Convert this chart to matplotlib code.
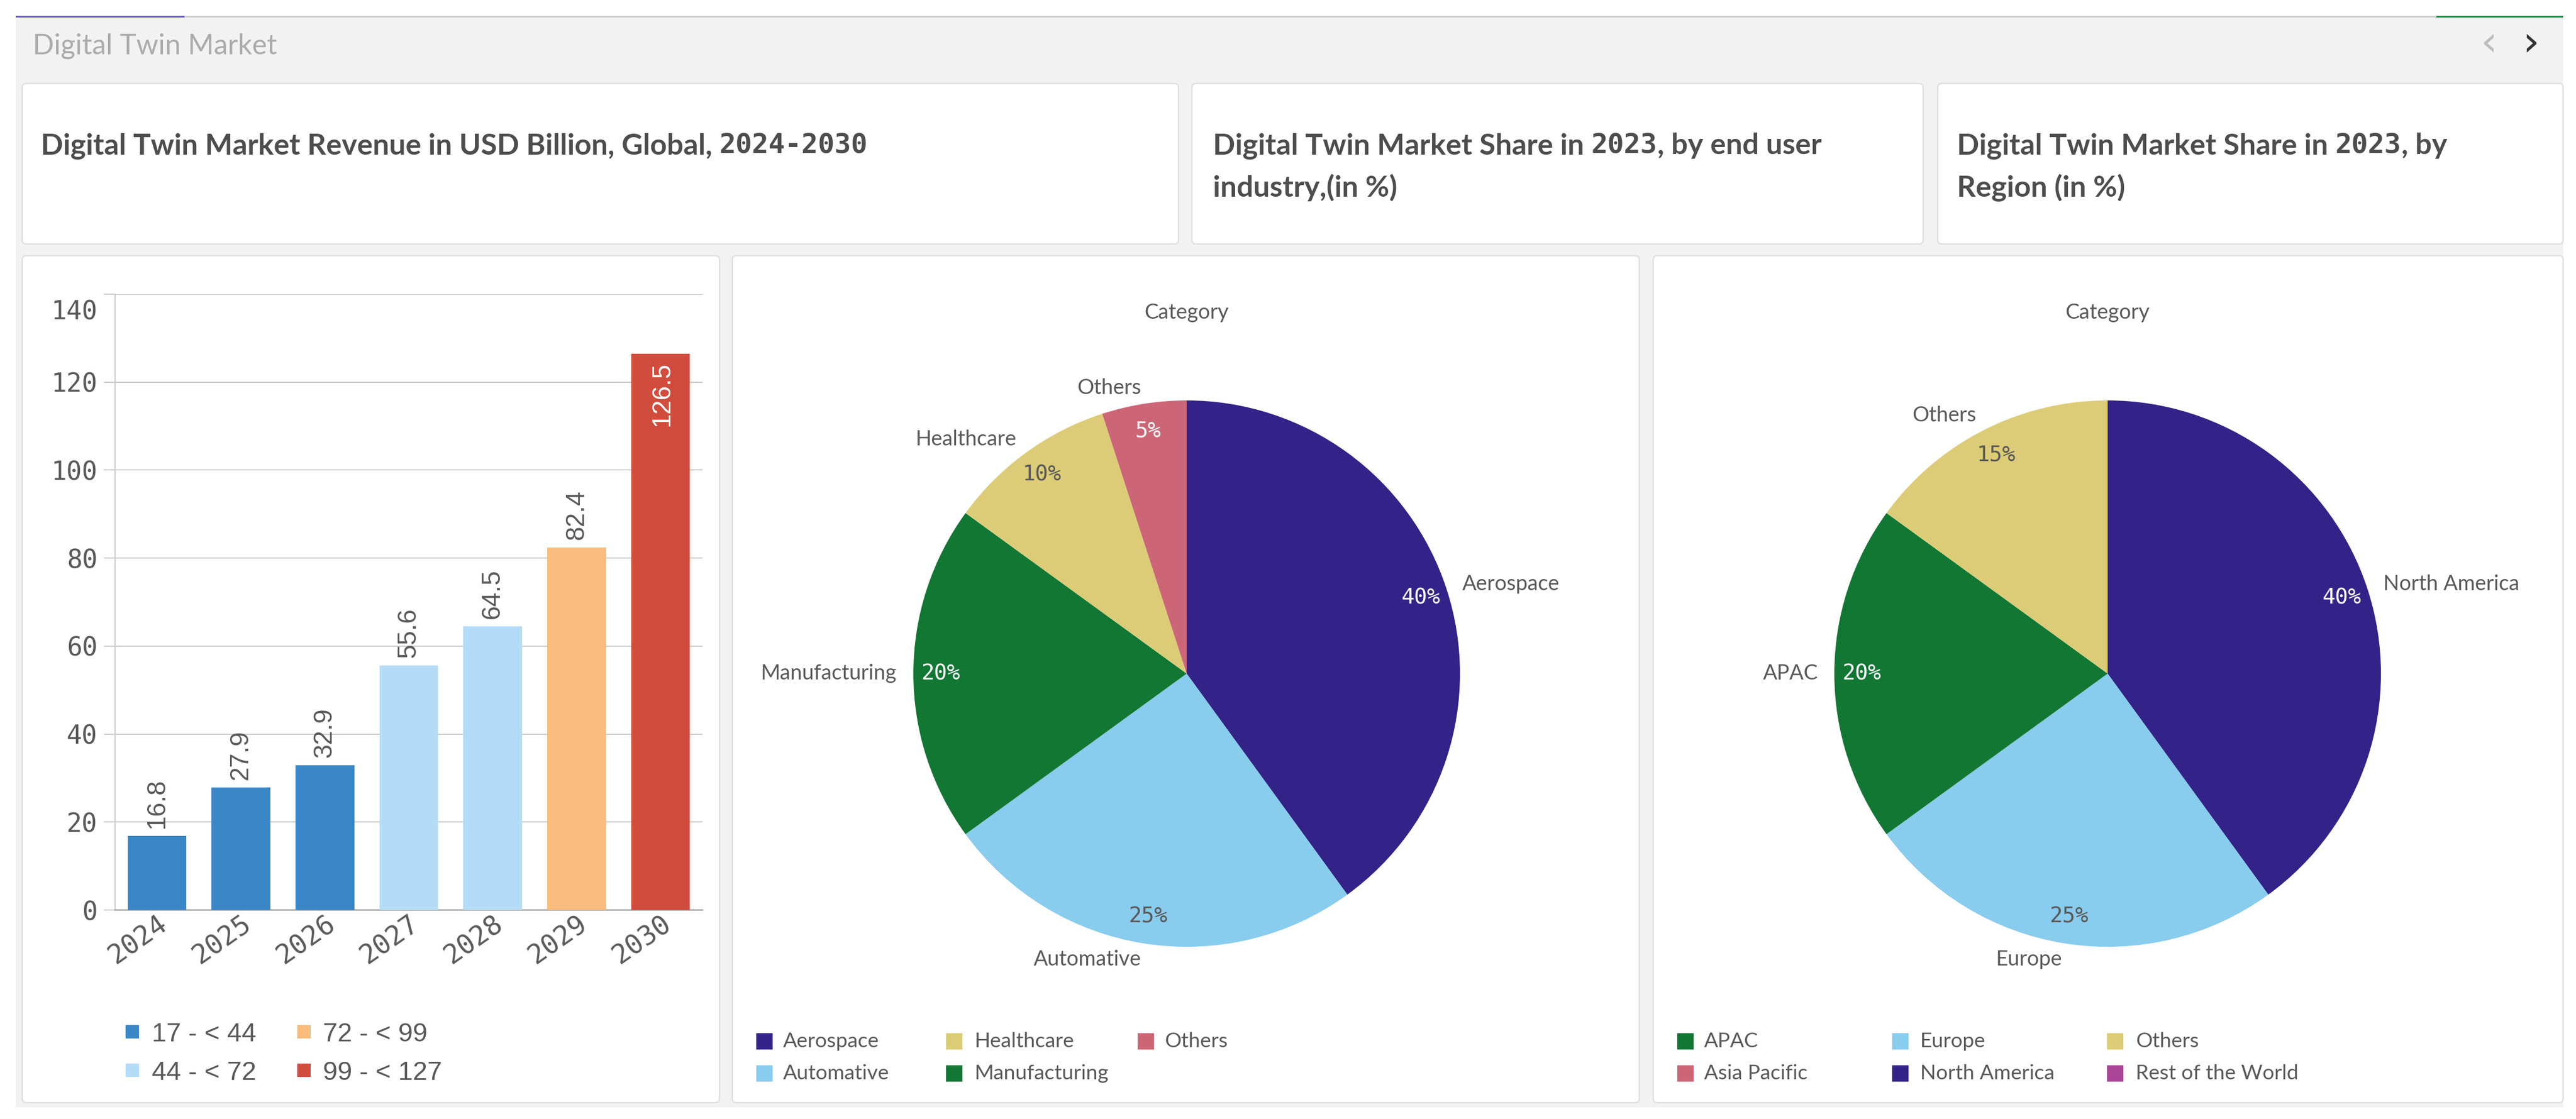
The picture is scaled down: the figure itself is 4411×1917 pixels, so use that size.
import matplotlib
matplotlib.use("Agg")
import matplotlib.pyplot as plt
from matplotlib.patches import FancyBboxPatch, Rectangle
from matplotlib.transforms import ScaledTranslation

# data
years = ["2024", "2025", "2026", "2027", "2028", "2029", "2030"]
revenue = [16.8, 27.9, 32.9, 55.6, 64.5, 82.4, 126.5]
bar_colors = ["#3A87C8", "#3A87C8", "#3A87C8", "#B5DCF7", "#B5DCF7", "#F9BC7C", "#D04D3D"]
y_ticks = [0, 20, 40, 60, 80, 100, 120, 140]
bar_legend = ["17 - < 44", "44 - < 72", "72 - < 99", "99 - < 127"]
bar_legend_colors = ["#3A87C8", "#B5DCF7", "#F9BC7C", "#D04D3D"]

industry_labels = ["Aerospace", "Automative", "Manufacturing", "Healthcare", "Others"]
industry_share = [40, 25, 20, 10, 5]
industry_colors = ["#332288", "#88CCEE", "#117733", "#DDCC77", "#CC6677"]
industry_legend = ["Aerospace", "Automative", "Healthcare", "Manufacturing", "Others"]
industry_legend_colors = ["#332288", "#88CCEE", "#DDCC77", "#117733", "#CC6677"]

region_labels = ["North America", "Europe", "APAC", "Others"]
region_share = [40, 25, 20, 15]
region_colors = ["#332288", "#88CCEE", "#117733", "#DDCC77"]
region_legend = ["APAC", "Asia Pacific", "Europe", "North America", "Others", "Rest of the World"]
region_legend_colors = ["#117733", "#CC6677", "#88CCEE", "#332288", "#DDCC77", "#AA4499"]

W, H = 4411, 1917
TEXT = "#595959"
SANS = "Lato"
MONO = "DejaVu Sans Mono"
TITLE_SIZE = 50


def px(n):
    # font sizes are worked out in pixels, dpi is 100
    return n * 0.72


def box_axes(x0, y0, x1, y1):
    return fig.add_axes([x0 / W, 1 - y1 / H, (x1 - x0) / W, (y1 - y0) / H])


def panel(x0, y0, x1, y1):
    bg.add_patch(FancyBboxPatch((x0, y0), x1 - x0, y1 - y0, boxstyle="round,pad=0,rounding_size=7",
                                fc="white", ec="#DEDEDE", lw=1.6))


def title_runs(x, y, words):
    t = bg.text(x, y, words + "|", family=SANS, weight="bold", fontsize=px(TITLE_SIZE))
    bar = bg.text(x, y, "|", family=SANS, weight="bold", fontsize=px(TITLE_SIZE))
    r = fig.canvas.get_renderer()
    w = t.get_window_extent(r).width - bar.get_window_extent(r).width
    bar.remove()
    t.remove()
    bg.text(x, y, words, family=SANS, weight="bold", fontsize=px(TITLE_SIZE), color="#4D4D4D", va="center")
    return x + w


def title_line(x, y, parts):
    # alternate word and digit runs, digits have the slashed zero
    for i, part in enumerate(parts):
        if i % 2 == 0:
            x = title_runs(x, y, part)
        else:
            bg.text(x, y, part, family=MONO, weight="bold", fontsize=px(47), color="#4D4D4D", va="center")
            x = x + len(part) * 0.602 * 47


def pie_panel(cx, cy, r, labels, share, colors):
    ax = box_axes(cx - r, cy - r, cx + r, cy + r)
    wedges, texts, pcts = ax.pie(share, labels=labels, colors=colors, startangle=90, counterclock=False,
                                 labeldistance=1.06, pctdistance=0.9, autopct=lambda p: "%d%%" % round(p),
                                 textprops={"family": SANS, "fontsize": px(36), "color": TEXT})
    ax.set_xlim(-1, 1)
    ax.set_ylim(-1, 1)
    ax.patch.set_alpha(0)
    for t in texts:
        t.set_clip_on(False)
    for w, p in zip(colors, pcts):
        p.set_family(MONO)
        p.set_fontsize(px(37))
        p.set_color("white" if w in ("#332288", "#117733", "#CC6677") else TEXT)
    bg.text(cx, 536, "Category", family=SANS, fontsize=px(36), color=TEXT, ha="center", va="center")


def legend_grid(names, colors, sq_xs, text_xs, rows, size=28):
    for i, (n, c) in enumerate(zip(names, colors)):
        col = i // 2
        y = rows[i % 2]
        bg.add_patch(Rectangle((sq_xs[col], y - 14), size, 28, fc=c, ec="none"))
        bg.text(text_xs[col], y, n, family=SANS, fontsize=px(35.5), color=TEXT, va="center")


fig = plt.figure(figsize=(W / 100, H / 100), dpi=100, facecolor="white")
bg = fig.add_axes([0, 0, 1, 1])
bg.set_xlim(0, W)
bg.set_ylim(H, 0)
bg.axis("off")

# sheet background and header
bg.add_patch(Rectangle((27, 28), 4362, 1869, fc="#F2F2F2", ec="none"))
bg.add_patch(Rectangle((27, 27), 4362, 3, fc="#CFCFCF", ec="none"))
bg.add_patch(Rectangle((27, 27), 289, 3, fc="#6A5ACD", ec="none"))
bg.add_patch(Rectangle((4172, 27), 217, 3, fc="#1A8A45", ec="none"))
bg.text(56, 79, "Digital Twin Market", family=SANS, fontsize=px(48), color="#ABABAB", va="center")
bg.text(4262, 76, "\u2039", family="DejaVu Sans", fontsize=px(72), color="#BDBDBD", ha="center", va="center")
bg.text(4334, 76, "\u203a", family="DejaVu Sans", fontsize=px(72), color="#333333", ha="center", va="center")

panel(38, 143, 2018, 418)
panel(2041, 143, 3293, 418)
panel(3318, 143, 4389, 418)
panel(38, 438, 1232, 1889)
panel(1254, 438, 2807, 1889)
panel(2831, 438, 4389, 1889)

title_line(70, 250, ["Digital Twin Market Revenue in USD Billion, Global, ", "2024-2030"])
title_line(2077, 250, ["Digital Twin Market Share in ", "2023", ", by end user"])
title_line(2077, 321, ["industry,(in %)"])
title_line(3351, 250, ["Digital Twin Market Share in ", "2023", ", by"])
title_line(3351, 321, ["Region (in %)"])

# bar chart
ax = box_axes(197, 504, 1203, 1559)
ax.patch.set_alpha(0)
xs = list(range(len(years)))
ax.bar(xs, revenue, width=0.7, color=bar_colors, zorder=3)
ax.set_xlim(-0.5, len(years) - 0.5)
ax.set_ylim(0, 140)
ax.set_yticks(y_ticks)
ax.set_xticks(xs)
ax.set_xticklabels([])
ax.grid(axis="y", color="#CCCCCC", lw=1.4, zorder=0)
ax.tick_params(axis="y", length=px(19), width=1.4, color="#CCCCCC", pad=px(11), labelsize=px(44), labelcolor=TEXT)
ax.tick_params(axis="x", length=0)
for lab in ax.get_yticklabels():
    lab.set_family(MONO)
# top label sits under its gridline in the original
top_lab = ax.get_yticklabels()[-1]
top_lab.set_transform(top_lab.get_transform() + ScaledTranslation(0, -0.26, fig.dpi_scale_trans))
for s in ("top", "right"):
    ax.spines[s].set_visible(False)
ax.spines["left"].set_color("#CCCCCC")
ax.spines["left"].set_linewidth(1.4)
ax.spines["bottom"].set_color("#999999")
ax.spines["bottom"].set_linewidth(1.6)

for x, v, y in zip(xs, revenue, years):
    if v > 100:
        ax.annotate("%.1f" % v, (x, v), xytext=(2, px(-14)), textcoords="offset points", rotation=90, ha="center",
                    va="top", family="Liberation Sans", fontsize=px(44), color="white", zorder=4)
    else:
        ax.annotate("%.1f" % v, (x, v), xytext=(0, px(13)), textcoords="offset points", rotation=90, ha="center",
                    va="bottom", family="Liberation Sans", fontsize=px(44), color=TEXT, zorder=4)
    ax.annotate(y, (x, 0), xytext=(px(-32), px(-52)), textcoords="offset points", rotation=35, ha="center",
                va="center", family=MONO, fontsize=px(46), color=TEXT, annotation_clip=False)

for i, (n, c) in enumerate(zip(bar_legend, bar_legend_colors)):
    col = i // 2
    y = [1767, 1833][i % 2]
    bg.add_patch(Rectangle(([215, 509][col], y - 11), 23, 23, fc=c, ec="none"))
    bg.text([260, 553][col], y + 6, n, family="Liberation Sans", fontsize=px(45), color=TEXT, va="center")

# pies
pie_panel(2032, 1154, 468, industry_labels, industry_share, industry_colors)
pie_panel(3609, 1154, 468, region_labels, region_share, region_colors)
legend_grid(industry_legend, industry_legend_colors, [1295, 1620, 1948], [1341, 1669, 1994], [1784, 1839])
legend_grid(region_legend, region_legend_colors, [2872, 3240, 3608], [2918, 3288, 3657], [1784, 1839])

fig.savefig("out.png", dpi=100)
